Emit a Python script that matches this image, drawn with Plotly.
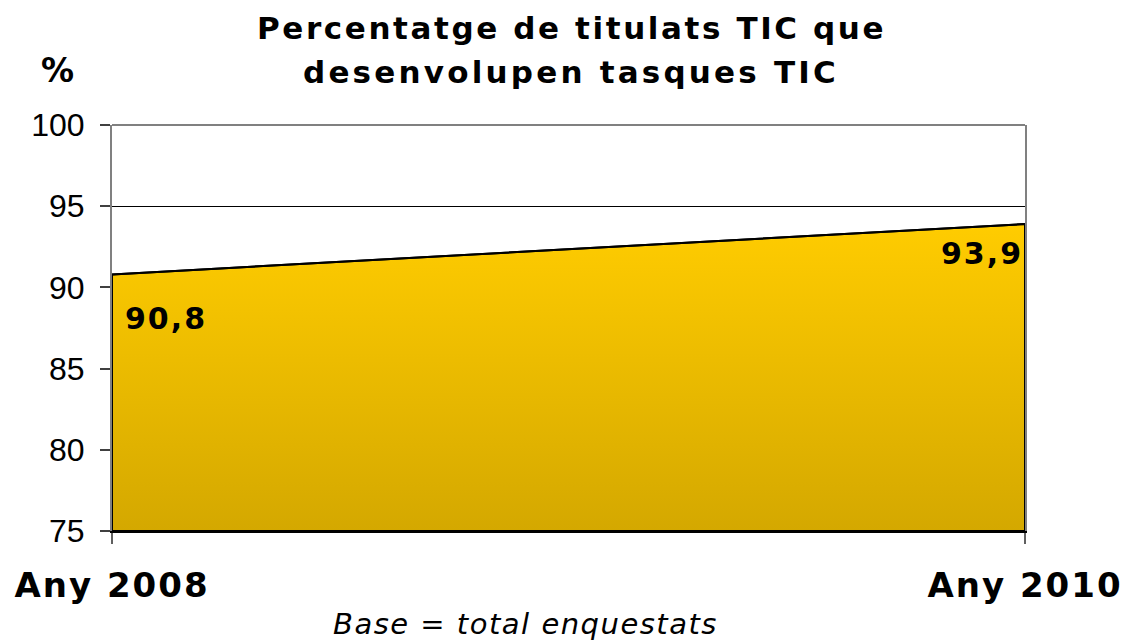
import plotly.graph_objects as go

# Data
years = [2008, 2010]
year_labels = ["Any 2008", "Any 2010"]
values = [90.8, 93.9]
value_labels = ["90,8", "93,9"]
y_min, y_max = 75, 100
y_ticks = [75, 80, 85, 90, 95, 100]

title_lines = ["Percentatge de titulats TIC que", "desenvolupen tasques TIC"]
y_unit = "%"
footnote = "Base = total enquestats"

BOLD = "DejaVu Sans"

def spaced(t, px):
    return f'<span style="letter-spacing:{px}px">{t}</span>'

fig = go.Figure()

# Filled area with vertical gradient
fig.add_trace(go.Scatter(
    x=years, y=values, mode="lines",
    line=dict(color="black", width=2),
    fill="tozeroy",
    fillgradient=dict(type="vertical",
                      colorscale=[[0, "#D4A800"], [1, "#FFCC00"]],
                      start=y_min, stop=max(values)),
    hoverinfo="skip", showlegend=False,
))

# Outline of area (edges and base)
fig.add_trace(go.Scatter(
    x=[years[0], years[0], years[1], years[1], years[0]],
    y=[y_min, values[0], values[1], y_min, y_min],
    mode="lines", line=dict(color="black", width=2),
    hoverinfo="skip", showlegend=False,
))

# Data labels
fig.add_annotation(x=years[0], y=values[0], text=spaced(value_labels[0], 2),
                   xanchor="left", yanchor="middle", xshift=11, yshift=-44,
                   showarrow=False, font=dict(family=BOLD, size=30, color="black", weight="bold"))
fig.add_annotation(x=years[1], y=values[1], text=spaced(value_labels[1], 2),
                   xanchor="right", yanchor="middle", xshift=0, yshift=-29,
                   showarrow=False, font=dict(family=BOLD, size=30, color="black", weight="bold"))

# Title lines
fig.add_annotation(xref="paper", yref="paper", x=0.5, y=1, xshift=3, yshift=97,
                   text=spaced(title_lines[0], 2.6), showarrow=False,
                   xanchor="center", yanchor="middle",
                   font=dict(family=BOLD, size=31, color="black", weight="bold"))
fig.add_annotation(xref="paper", yref="paper", x=0.5, y=1, xshift=2, yshift=53,
                   text=spaced(title_lines[1], 3.2), showarrow=False,
                   xanchor="center", yanchor="middle",
                   font=dict(family=BOLD, size=31, color="black", weight="bold"))

# % unit label
fig.add_annotation(xref="paper", yref="paper", x=0, y=1, xshift=-55, yshift=55,
                   text=y_unit, showarrow=False, xanchor="center", yanchor="middle",
                   font=dict(family=BOLD, size=33, color="black", weight="bold"))

# Footnote
fig.add_annotation(xref="paper", yref="paper", x=0.5, y=0, xshift=-43, yshift=-93,
                   text=spaced(footnote, 1.5), showarrow=False, xanchor="center", yanchor="middle",
                   font=dict(family="DejaVu Sans", size=29, color="black", style="italic"))

# Top frame line
fig.add_shape(type="line", xref="paper", yref="paper", x0=0, x1=1, y0=1, y1=1,
              line=dict(color="#808080", width=2), layer="below")

# The page body has an 8px default margin; size the figure to fit the window.
fig.update_layout(
    width=1121, height=635,
    margin=dict(l=104, r=104, t=117, b=112, autoexpand=False),
    paper_bgcolor="white", plot_bgcolor="white",
    showlegend=False,
    xaxis=dict(
        range=[years[0], years[1]],
        tickvals=years, ticktext=[spaced(t, 2) for t in year_labels],
        tickfont=dict(family=BOLD, size=34, color="black", weight="bold"),
        ticks="outside", ticklen=11, tickcolor="#606060", tickwidth=1.5,
        ticklabelstandoff=12, automargin=False, ticklabeloverflow="allow",
        showline=True, linecolor="black", linewidth=2,
        showgrid=False, zeroline=False, layer="below traces",
    ),
    yaxis=dict(
        range=[y_min, y_max], tickvals=y_ticks,
        tickfont=dict(family="Liberation Sans", size=32, color="black"),
        ticks="outside", ticklen=10, tickcolor="#404040", tickwidth=1.5,
        ticklabelstandoff=9, automargin=False,
        showline=True, linecolor="#808080", linewidth=2, mirror=True,
        showgrid=True, gridcolor="black", gridwidth=1,
        zeroline=False, layer="below traces",
    ),
)

fig.write_html("out.html")
